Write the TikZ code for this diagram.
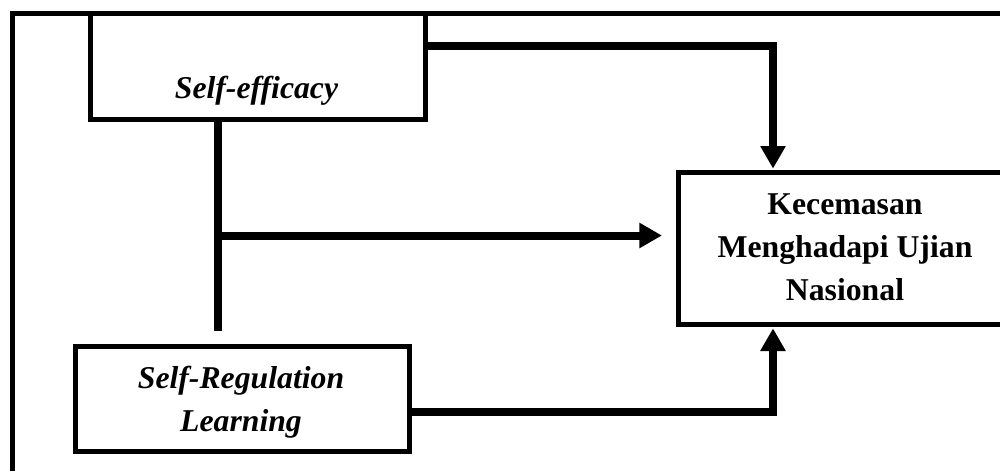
\documentclass[tikz,border=0pt]{standalone}
\usepackage{fontspec}
\setmainfont{Liberation Serif}
\usetikzlibrary{arrows.meta,calc}
\begin{document}
\begin{tikzpicture}[x=0.75pt,y=-0.75pt,
  frame/.style={draw=black,line width=3.75pt},
  boxnode/.style={draw=black,line width=3.75pt,fill=white,inner sep=0pt},
  lbl/.style={font=\fontsize{23.8}{32.25}\selectfont\bfseries\itshape,align=center,inner sep=0pt},
  lblr/.style={font=\fontsize{23.8}{32.25}\selectfont\bfseries,align=center,inner sep=0pt},
  conn/.style={draw=black,line width=6pt},
  arr/.style={conn,-{Triangle[length=17pt,width=18pt]}}]
\useasboundingbox (0,0) rectangle (1000,471);
\fill[white] (0,0) rectangle (1000,471);
% outer frame (runs past the right and bottom edges)
\draw[frame] (12,13.5) rectangle (1030,500);
% boxes
\node[boxnode,minimum width=250.9pt,minimum height=79.5pt] (se) at (258.25,66.5) {};
\node[boxnode,minimum width=250.5pt,minimum height=78.4pt] (srl) at (242.5,399.25) {};
\node[boxnode,minimum width=250pt,minimum height=114pt] (kua) at (845,248.5) {};
% texts
\node[lbl,anchor=base] (setext) at (256.5,98) {Self-efficacy};
\node[lbl] (srltext) at (241,402) {Self-Regulation\\Learning};
\node[lblr] (kuatext) at (845,247) {Kecemasan\\Menghadapi Ujian\\Nasional};
% connectors
\coordinate (topturn) at (773,46);
\coordinate (midend) at (217.5,331);
\coordinate (midjoin) at (217.5,235.5);
\coordinate (midtip) at (662,235.5);
\coordinate (botturn) at (773,412);
\draw[arr,shorten >=1pt] (se.east |- topturn) -- (topturn) -- (topturn |- kua.north);
\draw[conn] (se.south -| midend) -- (midend);
\draw[arr] ([xshift=-3pt]midjoin) -- (midtip);
\draw[arr,shorten >=1pt] (srl.east |- botturn) -- (botturn) -- (botturn |- kua.south);
\end{tikzpicture}
\end{document}
